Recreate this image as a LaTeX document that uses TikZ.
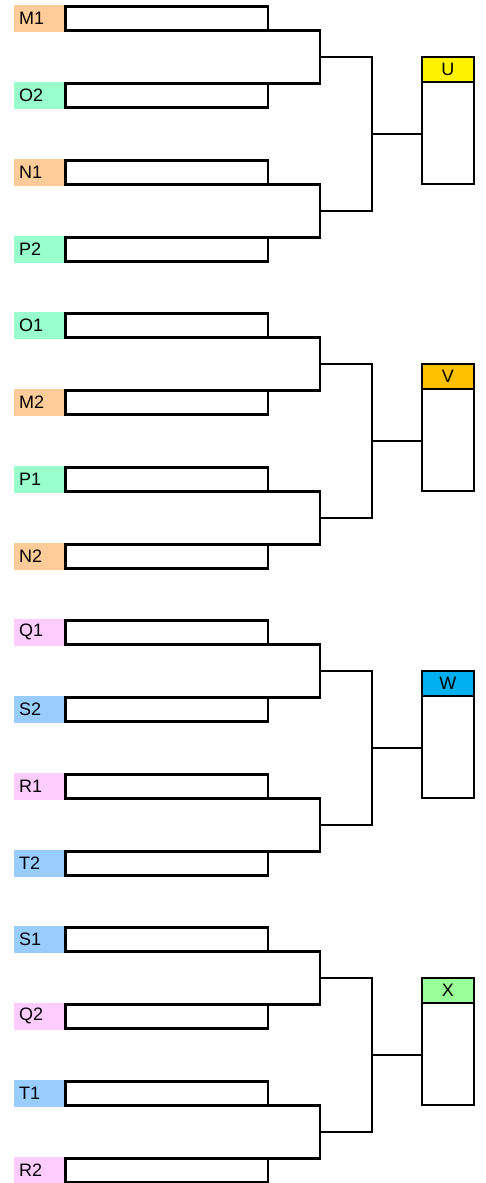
\documentclass[tikz,border=0pt]{standalone}
\usepackage{fontspec}
\setmainfont{Liberation Sans}
\usetikzlibrary{calc}
\usetikzlibrary{positioning}
\definecolor{peach}{HTML}{FFCC99}
\definecolor{mint}{HTML}{99FFCC}
\definecolor{pink}{HTML}{FFCCFF}
\definecolor{sky}{HTML}{99CCFF}
\definecolor{amber}{HTML}{FFC000}
\definecolor{cyanblue}{HTML}{00B0F0}
\definecolor{lime}{HTML}{99FF99}
\begin{document}
\begin{tikzpicture}[x=0.5pt,y=-0.5pt,line width=1.25pt,
		slot/.style={rectangle,draw=black,outer sep=0pt,inner sep=0pt,minimum width=101.25pt,minimum height=12pt},
		tag/.style={rectangle,outer sep=0pt,inner xsep=2.5pt,inner ysep=0pt,text width=20pt,align=left,minimum height=13.5pt,font=\fontsize{9pt}{10pt}\selectfont},
		hdr/.style={rectangle,draw=black,outer sep=0pt,inner sep=0pt,minimum width=25.85pt,minimum height=12.5pt,font=\fontsize{9pt}{10pt}\selectfont},
		winbox/.style={rectangle,draw=black,outer sep=0pt,inner sep=0pt,minimum width=25.85pt,minimum height=51.15pt}]
		\useasboundingbox (0,0) rectangle (486,1183);
		
		\foreach \g/\la/\ca/\lb/\cb/\lc/\cc/\ld/\cd/\w/\cw in {
			0/M1/peach/O2/mint/N1/peach/P2/mint/U/yellow,
			1/O1/mint/M2/peach/P1/mint/N2/peach/V/amber,
			2/Q1/pink/S2/sky/R1/pink/T2/sky/W/cyanblue,
			3/S1/sky/Q2/pink/T1/sky/R2/pink/X/lime}
		{
			\node[slot]  (s\g a)  at (166.5,{18.25+307*\g})  {};
			\node[slot]  (s\g b)  [below=26.5pt of s\g a]   {};
			\node[slot]  (s\g c)  [below=26.5pt of s\g b]   {};
			\node[slot]  (s\g d)  [below=26.5pt of s\g c]   {};
			
			\node[tag,fill=\ca]  (t\g a)  [left=0.62pt of s\g a]  {\la};
			\node[tag,fill=\cb]  (t\g b)  [left=0.62pt of s\g b]  {\lb};
			\node[tag,fill=\cc]  (t\g c)  [left=0.62pt of s\g c]  {\lc};
			\node[tag,fill=\cd]  (t\g d)  [left=0.62pt of s\g d]  {\ld};
			
			\coordinate (j\g a) at ($(s\g a.south east)!.5!(s\g b.north east)+(52,0)$);
			\coordinate (j\g b) at ($(s\g c.south east)!.5!(s\g d.north east)+(52,0)$);
			\coordinate (k\g)   at ($(j\g a)!.5!(j\g b)+(52,0)$);
			
			\node[hdr,fill=\cw,anchor=north west]  (h\g)  at ($(j\g a)+(102.3,0)$)  {\w};
			\node[winbox]  (b\g)  [below=0pt of h\g]  {};
			
			\draw (s\g a.south east) -| (j\g a) |- (s\g b.north east);
			\draw (s\g c.south east) -| (j\g b) |- (s\g d.north east);
			\draw (j\g a) -| (k\g) |- (j\g b);
			\draw (k\g) -- (k\g -| b\g.west);
		}
\end{tikzpicture}
\end{document}
